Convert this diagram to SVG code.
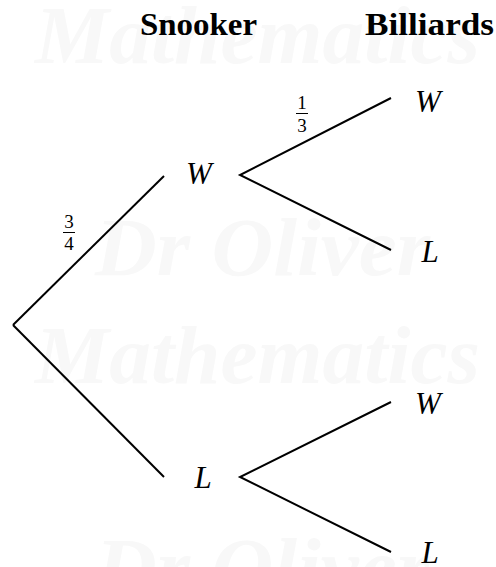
<svg xmlns="http://www.w3.org/2000/svg" width="496" height="567" viewBox="0 0 496 567">
<style>
text{font-family:'Liberation Serif','Times New Roman','DejaVu Serif',serif}
.wm{font-style:italic;font-weight:bold;fill:#f8f8f8}
.hd{font-weight:bold;font-size:32px;fill:#000}
.lb{font-style:italic;font-size:31px;fill:#000;text-anchor:middle}
.fr{font-size:19px;fill:#000;text-anchor:middle}
.ln{stroke:#000;stroke-width:2;fill:none}
</style>
<rect width="496" height="567" fill="#fff"/>
<g id="watermark">
<text class="wm" x="35" y="63" font-size="82" textLength="445" lengthAdjust="spacingAndGlyphs">Mathematics</text>
<text class="wm" x="95" y="275" font-size="82" textLength="335" lengthAdjust="spacingAndGlyphs">Dr Oliver</text>
<text class="wm" x="35" y="383" font-size="82" textLength="445" lengthAdjust="spacingAndGlyphs">Mathematics</text>
<text class="wm" x="95" y="595" font-size="82" textLength="335" lengthAdjust="spacingAndGlyphs">Dr Oliver</text>
</g>
<g id="headers">
<text class="hd" x="140" y="35" textLength="117" lengthAdjust="spacingAndGlyphs">Snooker</text>
<text class="hd" x="365" y="35" textLength="129" lengthAdjust="spacingAndGlyphs">Billiards</text>
</g>
<g id="connectors">
<line class="ln" x1="13" y1="325" x2="164" y2="176"/>
<line class="ln" x1="13" y1="325" x2="164" y2="477"/>
<polyline class="ln" points="391,98 240,175 391,250"/>
<polyline class="ln" points="391,402 240,477 391,552"/>
</g>
<g id="frac34">
<text class="fr" x="69" y="228">3</text>
<line x1="63" y1="232.5" x2="75" y2="232.5" stroke="#000" stroke-width="1"/>
<text class="fr" x="69" y="250">4</text>
</g>
<g id="frac13">
<text class="fr" x="302" y="109">1</text>
<line x1="296" y1="113.5" x2="308" y2="113.5" stroke="#000" stroke-width="1"/>
<text class="fr" x="302" y="132">3</text>
</g>
<g id="n-W1"><text class="lb" x="199" y="184">W</text></g>
<g id="n-L1"><text class="lb" x="203" y="488">L</text></g>
<g id="n-WW"><text class="lb" x="428" y="112">W</text></g>
<g id="n-WL"><text class="lb" x="430" y="262">L</text></g>
<g id="n-LW"><text class="lb" x="428" y="414">W</text></g>
<g id="n-LL"><text class="lb" x="430" y="563">L</text></g>
</svg>
